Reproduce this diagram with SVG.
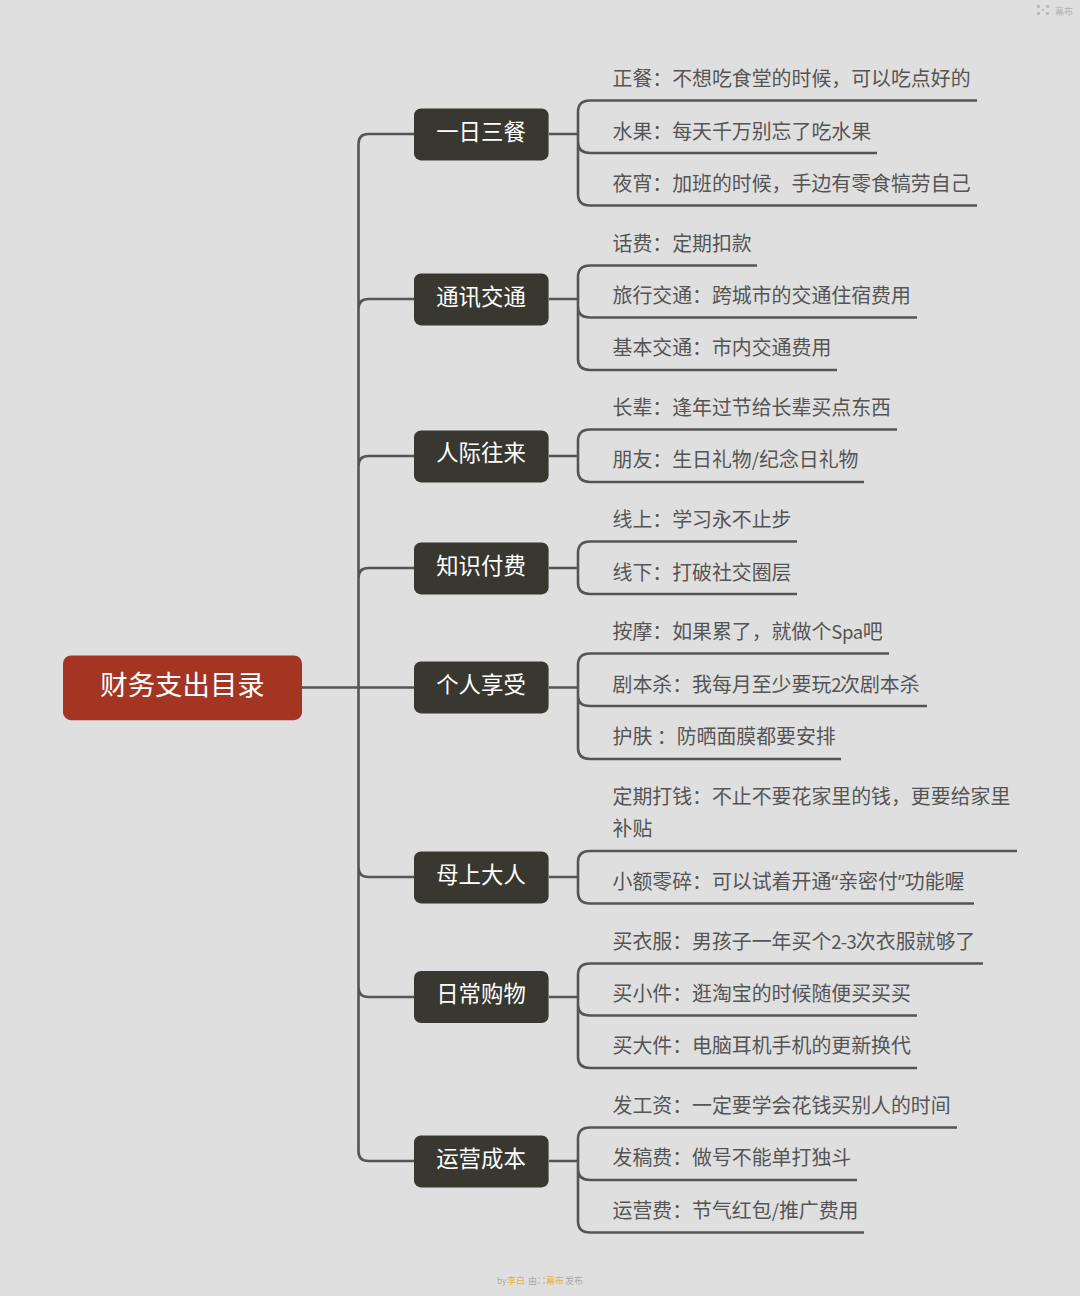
<svg xmlns="http://www.w3.org/2000/svg" width="1080" height="1296" viewBox="0 0 1080 1296">
<style>
text{font-family:"Noto Sans CJK SC",sans-serif}
.c{fill:none;stroke:#555;stroke-width:2.6}
.n{fill:#383831}
.nt{fill:#fff;font-size:22.4px;text-anchor:middle}
.l{fill:#555;font-size:19.900px}
.q{font-family:"Open Sans",sans-serif}
.a{font-size:18.500px}
.f{font-size:9px;fill:#aaa}
.y{font-size:9px;fill:#e8b23a}
</style>
<rect width="1080" height="1296" fill="#dfdfdf"/>
<g id="connectors">
<path class="c" d="M302 687.500H414M358.500 144V1151M414 134H368.500Q358.500 134 358.500 144M414 299H368.500Q358.500 299 358.500 309M414 456H368.500Q358.500 456 358.500 466M414 568H368.500Q358.500 568 358.500 578M414 877H368.500Q358.500 877 358.500 867M414 997H368.500Q358.500 997 358.500 987M414 1161H368.500Q358.500 1161 358.500 1151"/>
<path class="c" d="M549 134H578M578 112V194M977 100.500H590Q578 100.500 578 112M877 153H590Q578 153 578 142M977 205.500H590Q578 205.500 578 194"/>
<path class="c" d="M549 299H578M578 277V359M757 265.500H590Q578 265.500 578 277M917 317.500H590Q578 317.500 578 307M837 370H590Q578 370 578 359"/>
<path class="c" d="M549 456H578M578 441V471M897 429.500H590Q578 429.500 578 441M864 482H590Q578 482 578 471"/>
<path class="c" d="M549 568H578M578 553V583M797 541.500H590Q578 541.500 578 553M797 594H590Q578 594 578 583"/>
<path class="c" d="M549 687.500H578M578 665V748M889 653.500H590Q578 653.500 578 665M927 706H590Q578 706 578 696M841 759H590Q578 759 578 748"/>
<path class="c" d="M549 877H578M578 862V892M1017 851H590Q578 851 578 862M974 903.500H590Q578 903.500 578 892"/>
<path class="c" d="M549 997H578M578 975V1057M983 963.500H590Q578 963.500 578 975M917 1015.500H590Q578 1015.500 578 1005M917 1068H590Q578 1068 578 1057"/>
<path class="c" d="M549 1161H578M578 1139V1221M957 1127.500H590Q578 1127.500 578 1139M857 1180H590Q578 1180 578 1169M864 1232.500H590Q578 1232.500 578 1221"/>
</g>
<g id="root"><rect x="63" y="655.400" width="239" height="64.800" rx="8" fill="#a53523"/><text x="182.500" y="695" fill="#fff" font-size="27.400" text-anchor="middle">财务支出目录</text></g>
<g id="n1"><rect class="n" x="414" y="108.400" width="134.600" height="52" rx="7"/><text class="nt" x="481" y="140">一日三餐</text></g>
<g id="n2"><rect class="n" x="414" y="273.400" width="134.600" height="52" rx="7"/><text class="nt" x="481" y="305">通讯交通</text></g>
<g id="n3"><rect class="n" x="414" y="430.400" width="134.600" height="52" rx="7"/><text class="nt" x="481" y="461">人际往来</text></g>
<g id="n4"><rect class="n" x="414" y="542.400" width="134.600" height="52" rx="7"/><text class="nt" x="481" y="573.500">知识付费</text></g>
<g id="n5"><rect class="n" x="414" y="661.400" width="134.600" height="52" rx="7"/><text class="nt" x="481" y="693">个人享受</text></g>
<g id="n6"><rect class="n" x="414" y="851.400" width="134.600" height="52" rx="7"/><text class="nt" x="481" y="882.500">母上大人</text></g>
<g id="n7"><rect class="n" x="414" y="971" width="134.600" height="52" rx="7"/><text class="nt" x="481" y="1002">日常购物</text></g>
<g id="n8"><rect class="n" x="414" y="1135.400" width="134.600" height="52" rx="7"/><text class="nt" x="481" y="1167">运营成本</text></g>
<g id="leaves">
<text class="l" x="612.500" y="86">正餐：不想吃食堂的时候，可以吃点好的</text>
<text class="l" x="612.500" y="138.500">水果：每天千万别忘了吃水果</text>
<text class="l" x="612.500" y="190.500">夜宵：加班的时候，手边有零食犒劳自己</text>
<text class="l" x="612.500" y="250.500">话费：定期扣款</text>
<text class="l" x="612.500" y="303">旅行交通：跨城市的交通住宿费用</text>
<text class="l" x="612.500" y="355">基本交通：市内交通费用</text>
<text class="l" x="612.500" y="415">长辈：逢年过节给长辈买点东西</text>
<text class="l" x="612.500" y="467">朋友：生日礼物<tspan class="a">/</tspan>纪念日礼物</text>
<text class="l" x="612.500" y="527">线上：学习永不止步</text>
<text class="l" x="612.500" y="579.500">线下：打破社交圈层</text>
<text class="l" x="612.500" y="639">按摩：如果累了，就做个<tspan class="a" letter-spacing="-0.400">Spa</tspan>吧</text>
<text class="l" x="612.500" y="691.500">剧本杀：我每月至少要玩<tspan class="a" letter-spacing="-1.500">2</tspan>次剧本杀</text>
<text class="l" x="612.500" y="744">护肤 ：防晒面膜都要安排</text>
<text class="l" x="612.500" y="804">定期打钱：不止不要花家里的钱，更要给家里</text>
<text class="l" x="612.500" y="836">补贴</text>
<text class="l" x="612.500" y="888.500">小额零碎：可以试着开通<tspan class="q">“</tspan>亲密付<tspan class="q">”</tspan>功能喔</text>
<text class="l" x="612.500" y="948.500">买衣服：男孩子一年买个<tspan class="a" letter-spacing="-0.800">2-3</tspan>次衣服就够了</text>
<text class="l" x="612.500" y="1000.500">买小件：逛淘宝的时候随便买买买</text>
<text class="l" x="612.500" y="1052.500">买大件：电脑耳机手机的更新换代</text>
<text class="l" x="612.500" y="1112.500">发工资：一定要学会花钱买别人的时间</text>
<text class="l" x="612.500" y="1165">发稿费：做号不能单打独斗</text>
<text class="l" x="612.500" y="1217.500">运营费：节气红包<tspan class="a">/</tspan>推广费用</text>
</g>
<g id="watermark">
<path d="M1037 5h3v3h-3zM1046 5h3v3h-3zM1037 12h3v3h-3zM1046 12h3v3h-3zM1042 9h2v2h-2z" fill="#bdbdbd"/>
<text x="1055" y="15" font-size="9" fill="#b5b5b5">幕布</text>
<text class="f" x="497" y="1283.500" style="font-size:8px">by</text><text class="y" x="507" y="1283.500">李白</text><text class="f" x="528" y="1283.500">由</text>
<path d="M538 1277h2v2h-2zM543 1277h2v2h-2zM538 1282h2v2h-2zM543 1282h2v2h-2z" fill="#c4c4c4"/>
<text class="y" x="546" y="1283.500">幕布</text><text class="f" x="565" y="1283.500">发布</text>
</g>
</svg>
